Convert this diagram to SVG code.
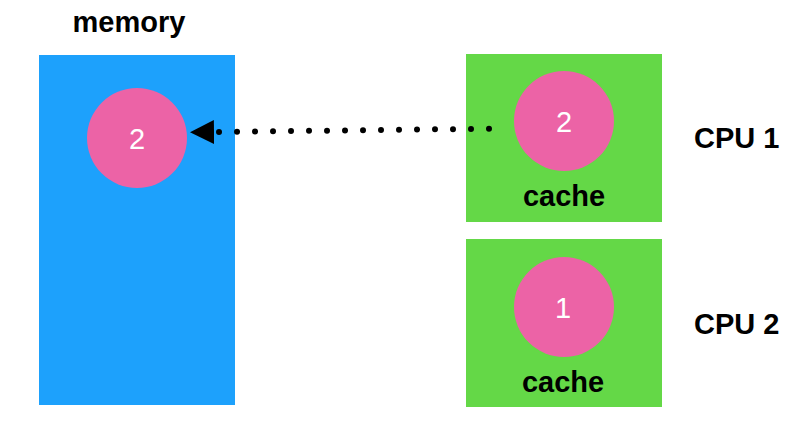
<svg xmlns="http://www.w3.org/2000/svg" width="810" height="433" viewBox="0 0 810 433">
<defs>
<style>
.lbl{font-family:"Liberation Sans",Arial,sans-serif;font-weight:bold;font-size:29px;fill:#000}
.num{font-family:"Liberation Sans",Arial,sans-serif;font-size:29px;fill:#fff;text-anchor:middle}
.ball{fill:#EC63A6}
.cpu{fill:#64D847}
</style>
<marker id="ah" markerUnits="userSpaceOnUse" markerWidth="24" markerHeight="24" viewBox="0 0 24 24" refX="0" refY="12" orient="auto">
<path d="M0,0 L24,12 L0,24 z" fill="#000"/>
</marker>
</defs>
<rect width="810" height="433" fill="#fff"/>
<g id="memory">
<text class="lbl" x="129" y="32" text-anchor="middle">memory</text>
<rect x="39" y="55" width="196" height="350" fill="#1DA1FC"/>
<circle class="ball" cx="137" cy="138" r="50"/>
<text class="num" x="137" y="148.5">2</text>
</g>
<g id="cpu1">
<rect class="cpu" x="466" y="54" width="196" height="168"/>
<circle class="ball" cx="564" cy="121" r="50"/>
<text class="num" x="564" y="132">2</text>
<text class="lbl" x="564" y="206" text-anchor="middle">cache</text>
<text class="lbl" x="694" y="148">CPU 1</text>
</g>
<g id="cpu2">
<rect class="cpu" x="466" y="239" width="196" height="168"/>
<circle class="ball" cx="564" cy="307" r="50"/>
<text class="num" x="563" y="318">1</text>
<text class="lbl" x="563" y="392" text-anchor="middle">cache</text>
<text class="lbl" x="694" y="334">CPU 2</text>
</g>
<g id="connectors">
<line x1="489" y1="128.7" x2="214" y2="132" stroke="#000" stroke-width="6" stroke-linecap="round" stroke-dasharray="0 18" marker-end="url(#ah)"/>
</g>
</svg>
